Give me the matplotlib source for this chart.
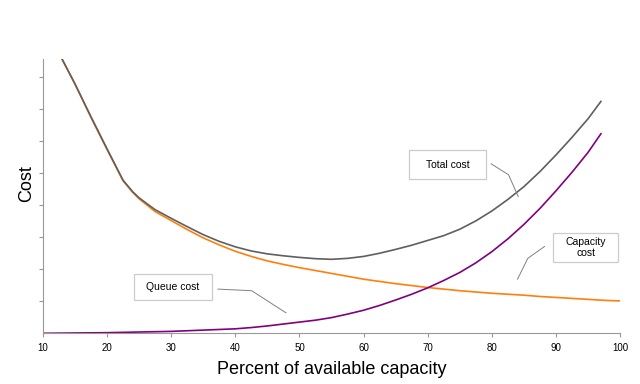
import matplotlib
matplotlib.use('Agg')
import matplotlib.pyplot as plt
from matplotlib.patches import Rectangle

plt.rcParams['font.family'] = ['Liberation Sans', 'DejaVu Sans']

# values (cost in tick units)
queue_x = [13, 15, 17.5, 20, 22.5, 24, 25, 26, 27.5, 30, 32.5, 35, 37.5, 40, 42.5, 45, 47.5, 50,
           52.5, 55, 57.5, 60, 62.5, 65, 67.5, 70, 72.5, 75, 77.5, 80, 82.5, 85, 87.5, 90, 92.5,
           95, 97.5, 100]
queue_cost = [8.55, 7.78, 6.74, 5.74, 4.76, 4.4, 4.2, 4.04, 3.8, 3.52, 3.24, 2.98, 2.76, 2.56,
              2.40, 2.26, 2.15, 2.05, 1.96, 1.87, 1.78, 1.69, 1.62, 1.55, 1.49, 1.43, 1.38, 1.33,
              1.29, 1.25, 1.22, 1.19, 1.15, 1.12, 1.09, 1.06, 1.03, 1.01]

capacity_x = [10, 20, 30, 35, 40, 42.5, 45, 47.5, 50, 52.5, 55, 57.5, 60, 62.5, 65, 67.5, 70,
              72.5, 75, 77.5, 80, 82.5, 85, 87.5, 90, 92.5, 95, 97]
capacity_cost = [0.0, 0.02, 0.06, 0.1, 0.14, 0.18, 0.23, 0.29, 0.35, 0.41, 0.49, 0.6, 0.72, 0.87,
                 1.04, 1.22, 1.42, 1.65, 1.9, 2.2, 2.55, 2.95, 3.4, 3.9, 4.45, 5.03, 5.65, 6.23]

total_x = [13, 15, 17.5, 20, 22.5, 24, 25, 26, 27.5, 30, 32.5, 35, 37.5, 40, 42.5, 45, 47.5, 50,
           52.5, 55, 57.5, 60, 62.5, 65, 67.5, 70, 72.5, 75, 77.5, 80, 82.5, 85, 87.5, 90, 92.5,
           95, 97]
total_cost = [8.56, 7.79, 6.76, 5.76, 4.78, 4.42, 4.23, 4.08, 3.86, 3.59, 3.33, 3.08, 2.87, 2.70,
              2.57, 2.48, 2.42, 2.37, 2.33, 2.31, 2.34, 2.40, 2.50, 2.62, 2.75, 2.90, 3.05, 3.25,
              3.51, 3.82, 4.18, 4.58, 5.05, 5.57, 6.12, 6.70, 7.24]

x_ticks = [10, 20, 30, 40, 50, 60, 70, 80, 90, 100]

fig = plt.figure(figsize=(6.4, 3.84), dpi=100)
ax = fig.add_axes([0.067, 0.132, 0.902, 0.714])

ax.plot(queue_x, queue_cost, color='#ff7f0e', lw=1.2)
ax.plot(capacity_x, capacity_cost, color='#800080', lw=1.2)
ax.plot(total_x, total_cost, color='#5f5f5f', lw=1.2)

ax.set_xlim(10, 100)
ax.set_ylim(0, 8.56)
ax.set_xticks(x_ticks)
ax.set_yticks(range(1, 9))
ax.set_yticklabels([])
ax.tick_params(axis='x', labelsize=7, length=3, color='#999999', pad=4)
ax.tick_params(axis='y', length=3, color='#999999')
for s in ['top', 'right']:
    ax.spines[s].set_visible(False)
for s in ['left', 'bottom']:
    ax.spines[s].set_color('#999999')
    ax.spines[s].set_linewidth(0.8)

ax.set_xlabel('Percent of available capacity', fontsize=13, labelpad=6)
ax.set_ylabel('Cost', fontsize=13)
ax.yaxis.set_label_coords(-0.014, 0.547)

# callout boxes with leader lines
def callout(x0, y0, x1, y1, text, lx, ly):
    ax.add_patch(Rectangle((x0, y0), x1 - x0, y1 - y0, facecolor='white',
                           edgecolor='#cccccc', lw=0.9, clip_on=False, zorder=3))
    ax.text((x0 + x1) / 2, (y0 + y1) / 2, text, ha='center', va='center',
            fontsize=7.5, zorder=4, linespacing=1.2)
    ax.plot(lx, ly, color='#808080', lw=0.7, zorder=2, clip_on=False)

callout(67.1, 4.81, 79.1, 5.73, 'Total cost', [79.9, 82.6, 84.1], [5.29, 4.95, 4.27])
callout(89.5, 2.24, 99.7, 3.125, 'Capacity\ncost', [88.2, 85.6, 84.0], [2.71, 2.34, 1.69])
callout(24.2, 1.04, 36.3, 1.84, 'Queue cost', [37.3, 42.55, 47.9], [1.38, 1.33, 0.64])

fig.savefig('out.png', dpi=100)
